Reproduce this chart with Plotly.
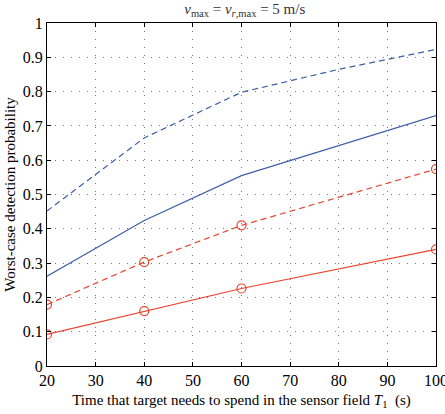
import plotly.graph_objects as go

x_blue = [20, 40, 60, 80, 100]
blue_dashed = [0.452, 0.665, 0.798, 0.865, 0.923]
blue_solid = [0.262, 0.424, 0.555, 0.643, 0.730]

x_red = [20, 40, 60, 100]
red_dashed = [0.179, 0.303, 0.410, 0.574]
red_solid = [0.092, 0.160, 0.226, 0.340]

x_ticks = [20, 30, 40, 50, 60, 70, 80, 90, 100]
y_ticks = [0, 0.1, 0.2, 0.3, 0.4, 0.5, 0.6, 0.7, 0.8, 0.9, 1]

BLUE = "#3f5fa8"
RED = "#e8452f"
FONT = "Liberation Serif"

fig = go.Figure()
fig.add_trace(go.Scatter(x=x_blue, y=blue_dashed, mode="lines",
                         line=dict(color=BLUE, width=1.2, dash="6px,4px")))
fig.add_trace(go.Scatter(x=x_blue, y=blue_solid, mode="lines",
                         line=dict(color=BLUE, width=1.2)))
fig.add_trace(go.Scatter(x=x_red, y=red_dashed, mode="lines+markers",
                         line=dict(color=RED, width=1.2, dash="6px,4px"),
                         marker=dict(symbol="circle-open", size=9, color=RED, line=dict(width=1.2))))
fig.add_trace(go.Scatter(x=x_red, y=red_solid, mode="lines+markers",
                         line=dict(color=RED, width=1.2),
                         marker=dict(symbol="circle-open", size=9, color=RED, line=dict(width=1.2))))

axis_common = dict(
    showline=True, linecolor="black", linewidth=1.2, mirror="ticks",
    ticks="inside", ticklen=4, tickcolor="black",
    showgrid=True, gridcolor="#777777", griddash="1px,7px", gridwidth=1.2,
    zeroline=False, tickfont=dict(family=FONT, size=16, color="black"),
    ticklabeloverflow="allow", automargin=False,
)

fig.update_layout(
    width=445, height=414,
    margin=dict(l=47, r=9, t=23, b=48, autoexpand=False),
    paper_bgcolor="white", plot_bgcolor="white",
    showlegend=False,
    font=dict(family=FONT, color="black"),
    title=dict(text="<i>v</i><sub>max</sub> = <i>v<sub>r</sub></i><sub>,max</sub> = 5 m/s",
               x=0.55, xanchor="center", y=1 - 9 / 414, yanchor="middle",
               font=dict(family=FONT, size=15, color="#333333")),
    xaxis=dict(range=[20, 100], tickvals=x_ticks, ticktext=[str(v) for v in x_ticks],
               title=dict(text="Time that target needs to spend in the sensor field <i>T</i><sub>1</sub>  (s)",
                          font=dict(family=FONT, size=15, color="black"), standoff=6),
               **axis_common),
    yaxis=dict(range=[0, 1], tickvals=y_ticks, ticktext=[("%g" % v) for v in y_ticks],
               title=dict(text="Worst-case detection probability",
                          font=dict(family=FONT, size=15, color="black"), standoff=3),
               **axis_common),
)

fig.write_html("out.html")
